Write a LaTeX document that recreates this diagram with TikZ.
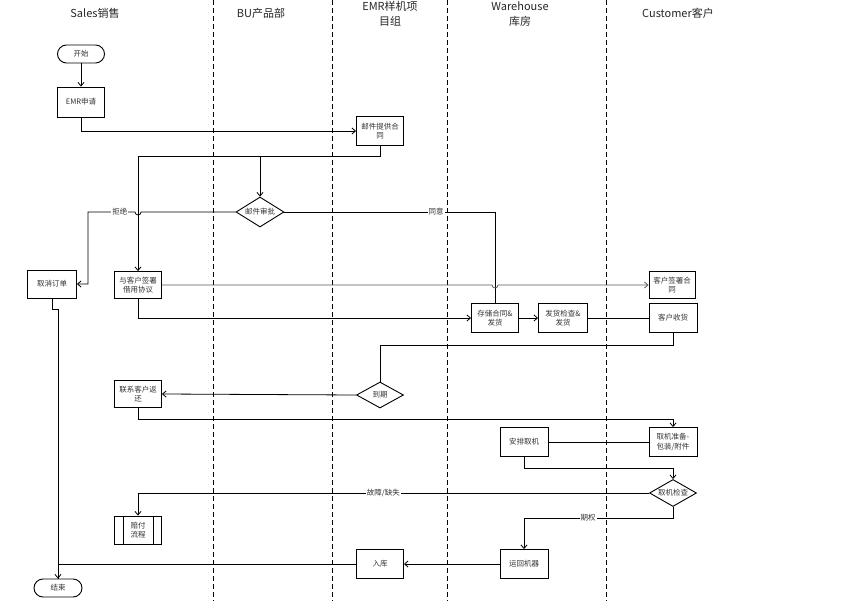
\documentclass[tikz,border=0pt]{standalone}
\usepackage{fontspec}
\setmainfont{Noto Sans CJK SC}
\usetikzlibrary{shapes.geometric,arrows.meta}

\begin{document}
\begin{tikzpicture}[
  x=1pt,y=-1pt,
  >={Straight Barb[length=3.5pt,width=6pt]},
  every node/.style={font=\fontsize{7.5}{9.5}\selectfont,text=black!80},
  box/.style={draw=black,line width=0.9pt,minimum width=47pt,minimum height=29pt,inner sep=1pt,align=center},
  term/.style={draw=black,line width=0.9pt,rounded corners=9pt,minimum width=47pt,minimum height=18pt,inner sep=0pt},
  dec/.style={diamond,draw=black,line width=0.9pt,aspect=1.6,inner sep=0pt,minimum width=47pt,minimum height=27pt},
  head/.style={font=\fontsize{11}{15.5}\selectfont,text=black!85,align=center},
  lbl/.style={fill=white,inner sep=1pt},
  lane/.style={dash pattern=on 5pt off 3pt,line width=0.9pt},
  link/.style={line width=0.8pt}
]
\useasboundingbox (0,0) rectangle (856,601);

% --- Lanes ---
\foreach \lx in {213,332,447,606}
  \draw[lane] (\lx,0) -- (\lx,601);
\node[head] (hSales) at (95,13)  {Sales销售};
\node[head] (hBU)    at (261,13) {BU产品部};
\node[head] (hEMR)   at (390,14) {EMR样机项\\目组};
\node[head] (hWare)  at (520,14) {Warehouse\\库房};
\node[head] (hCust)  at (678,13) {Customer客户};

% --- Nodes ---
\node[term] (start)  at (81,54)  {开始};
\node[box,minimum height=30pt] (emr) at (81,102) {EMR申请};
\node[box] (contract) at (380,131) {邮件提供合\\同};
\node[dec,minimum width=48pt,minimum height=30pt] (approve) at (260,212) {邮件审批};
\node[box,minimum width=49pt,minimum height=28pt] (cancel) at (52,284) {取消订单};
\node[box,minimum height=27pt] (sign) at (138,285) {与客户签署\\借用协议};
\node[box,minimum width=46pt,minimum height=27pt] (custsign) at (672,285) {客户签署合\\同};
\node[box] (store)   at (495,318) {存储合同\&\\发货};
\node[box,minimum width=49pt] (check) at (563,318) {发货检查\&\\发货};
\node[box,minimum width=48pt] (receive) at (673,318) {客户收货};
\node[dec,minimum height=26pt] (due) at (380,395) {到期};
\node[box,minimum height=27pt] (back) at (138,394) {联系客户返\\还};
\node[box,minimum width=48pt] (arrange) at (524,442) {安排取机};
\node[box,minimum width=48pt] (prep) at (673,442) {取机准备-\\包装/附件};
\node[dec] (inspect) at (673,493) {取机检查};
\node[box,minimum height=28pt] (pay) at (138,530) {赔付\\流程};
\draw[line width=0.9pt] ([xshift=9pt]pay.north west) -- ([xshift=9pt]pay.south west);
\draw[line width=0.9pt] ([xshift=-9pt]pay.north east) -- ([xshift=-9pt]pay.south east);
\node[box,minimum width=48pt] (ship) at (524,564) {运回机器};
\node[box] (instore) at (380,564) {入库};
\node[term,minimum width=48pt] (end) at (58,588) {结束};

% --- Connectors ---
\coordinate (split) at (260,156);
\draw[link,->] (start) -- (emr);
\draw[link,->] (emr.south) |- (contract.west);
\draw[link] (contract.south) |- (split);
\draw[link,->] (split) -| (sign.north);
\draw[link,->] (split) -- (approve.north);
% reject, hopping over the line down to sign
\draw[link,->] (approve.west) -- ([xshift=3pt]sign.north |- approve.west)
  arc[start angle=0,end angle=-180,radius=3pt] -- (88,212)
  node[lbl,pos=0.32] {拒绝} |- (cancel.east);
% agree
\draw[link] (approve.east) -| node[lbl,pos=0.36] {同意} (store.north);
% sign -> customer contract, hopping over the agree line
\draw[link,black!65,->] (sign.east) -- ([xshift=-3pt]store.north |- sign.east)
  arc[start angle=180,end angle=360,radius=3pt] -- (custsign.west);
\draw[link,->] (sign.south) |- (store.west);
\draw[link,->] (store) -- (check);
\draw[link] (check) -- (receive);
\draw[link] (receive.south) -- ++(0,12) -| (due.north);
\draw[link,->] (due.west) -- (back.east);
\draw[link,->] (back.south) -- ++(0,11) -| (prep.north);
\draw[link] (arrange) -- (prep);
\draw[link,->] (arrange.south) -- ++(0,11) -| (inspect.north);
\draw[link,->] (inspect.west) -| node[lbl,pos=0.26] {故障/缺失} (pay.north);
\draw[link,->] (inspect.south) -- ++(0,11) -| node[lbl,pos=0.285] {期权} (ship.north);
\draw[link,->] (ship) -- (instore);
\draw[link,->] (instore.west) -| (end.north);
\draw[link] (cancel.south) -- ++(0,11) -| (end.north);

\end{tikzpicture}
\end{document}
